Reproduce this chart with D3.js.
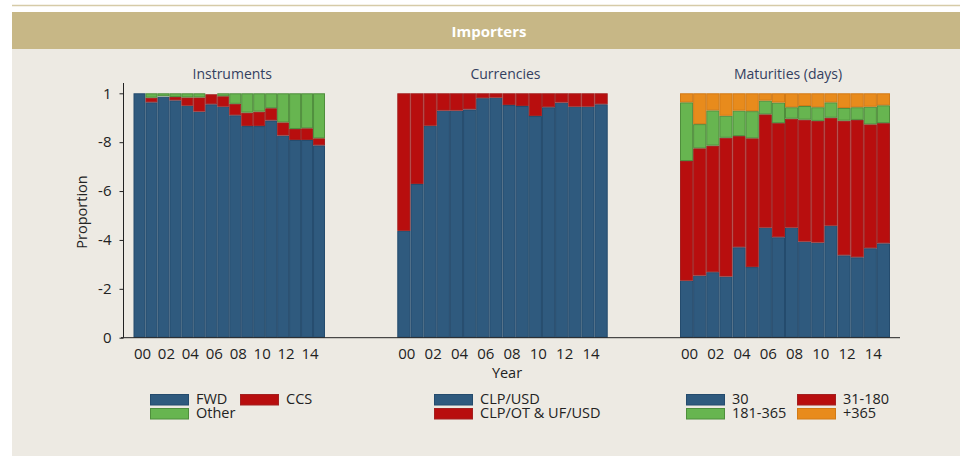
<!DOCTYPE html>
<html>
<head>
<meta charset="utf-8">
<script src="https://cdn.jsdelivr.net/npm/d3@7"></script>
<style>
  body { margin: 0; background: #fff; }
  svg { display: block; font-family: "Open Sans", sans-serif; }
</style>
</head>
<body>
<svg id="chart" width="960" height="456"></svg>
<script>
// years 2000-2015
var years = ["00","01","02","03","04","05","06","07","08","09","10","11","12","13","14","15"];
var yearTicks = ["00","02","04","06","08","10","12","14"];
var yTickValues = [0, 0.2, 0.4, 0.6, 0.8, 1];
var yTickLabels = ["0", "-2", "-4", "-6", "-8", "1"];

// Instruments
var fwd   = [1.000, .963, .986, .971, .949, .925, .955, .945, .910, .866, .866, .889, .827, .809, .809, .787];
var ccs   = [0.000, .019, .002, .014, .034, .058, .041, .043, .047, .055, .059, .050, .054, .045, .048, .029];
var other = [0.000, .018, .012, .015, .017, .017, .004, .012, .043, .079, .075, .061, .119, .146, .143, .184];

// Currencies
var clpUsd   = [.437, .629, .867, .929, .929, .934, .980, .982, .952, .948, .907, .943, .962, .945, .945, .955];
var clpOther = [.563, .371, .133, .071, .071, .066, .020, .018, .048, .052, .093, .057, .038, .055, .055, .045];

// Maturities (days)
var m30     = [.233, .254, .268, .250, .370, .289, .450, .411, .450, .393, .389, .458, .337, .329, .366, .386];
var m31_180 = [.490, .521, .518, .568, .455, .527, .464, .467, .446, .499, .498, .442, .551, .562, .507, .492];
var m181    = [.240, .099, .144, .090, .104, .111, .056, .084, .047, .056, .056, .063, .052, .052, .072, .073];
var m365    = [.037, .126, .070, .092, .071, .073, .030, .038, .057, .052, .057, .037, .060, .057, .055, .049];

var colors = {
  blue:   { fill: "#2f5a7e", stroke: "#244b6d" },
  red:    { fill: "#b80e0e", stroke: "#a32020" },
  green:  { fill: "#67b550", stroke: "#4f8e3c" },
  orange: { fill: "#e88b1c", stroke: "#d27a16" }
};

var panels = [
  { title: "Instruments", x0: 133.5, x1: 325,
    series: [
      { name: "FWD", values: fwd, color: colors.blue },
      { name: "CCS", values: ccs, color: colors.red },
      { name: "Other", values: other, color: colors.green }
    ],
    legend: { x: 150, colW: 90, cols: 2 } },
  { title: "Currencies", x0: 397.3, x1: 607.7,
    series: [
      { name: "CLP/USD", values: clpUsd, color: colors.blue },
      { name: "CLP/OT & UF/USD", values: clpOther, color: colors.red }
    ],
    legend: { x: 434, colW: 0, cols: 1 } },
  { title: "Maturities (days)", x0: 680, x1: 890,
    series: [
      { name: "30", values: m30, color: colors.blue },
      { name: "31-180", values: m31_180, color: colors.red },
      { name: "181-365", values: m181, color: colors.green },
      { name: "+365", values: m365, color: colors.orange }
    ],
    legend: { x: 686, colW: 111, cols: 2 } }
];

var svg = d3.select("#chart");

// background + header
svg.append("rect").attr("x", 12).attr("y", 12).attr("width", 948).attr("height", 444).attr("fill", "#edeae3");
svg.append("rect").attr("x", 12).attr("y", 12).attr("width", 948).attr("height", 37).attr("fill", "#c7b786");
svg.append("line").attr("x1", 12).attr("x2", 960).attr("y1", 5.5).attr("y2", 5.5)
  .attr("stroke", "#d6cba8").attr("stroke-width", 1.5);
svg.append("text").attr("x", 489).attr("y", 37).attr("text-anchor", "middle")
  .attr("fill", "#fff").style("font-weight", "bold").style("font-size", "15px").text("Importers");

var y = d3.scaleLinear().domain([0, 1]).range([337.7, 93.3]);

panels.forEach(function(p) {
  var x = d3.scaleBand().domain(years).range([p.x0, p.x1]).padding(0);

  var stack = d3.stack().keys(p.series.map(function(s, i) { return i; }))
    .value(function(d, k) { return p.series[k].values[d]; });
  var layers = stack(d3.range(years.length));

  var g = svg.append("g");
  layers.forEach(function(layer, k) {
    var c = p.series[k].color;
    g.selectAll(null)
      .data(layer)
      .enter()
      .append("rect")
      .attr("x", function(d, i) { return x(years[i]) + 0.5; })
      .attr("width", x.bandwidth() - 1)
      .attr("y", function(d) { return y(d[1]) + 0.5; })
      .attr("height", function(d) { return Math.max(0, y(d[0]) - y(d[1]) - 1); })
      .attr("fill", c.fill)
      .attr("stroke", c.stroke)
      .attr("stroke-width", 1)
      .style("display", function(d) { return d[1] - d[0] > 0 ? null : "none"; });
  });

  // title
  svg.append("text").attr("x", (p.x0 + p.x1) / 2 + 3).attr("y", 79)
    .attr("text-anchor", "middle").attr("fill", "#33405f").style("font-size", "14px").text(p.title);

  // x tick labels
  svg.append("g").selectAll("text")
    .data(yearTicks)
    .enter()
    .append("text")
    .attr("x", function(d) { return x(d) + x.bandwidth() / 2 + 3; })
    .attr("y", 359)
    .attr("text-anchor", "middle")
    .attr("fill", "#222")
    .style("font-size", "15px")
    .text(function(d) { return d; });

  // legend
  var lg = svg.append("g");
  p.series.forEach(function(s, i) {
    var col = p.legend.cols === 2 ? i % 2 : 0;
    var row = p.legend.cols === 2 ? Math.floor(i / 2) : i;
    var lx = p.legend.x + col * p.legend.colW;
    var ly = 394 + row * 14;
    lg.append("rect").attr("x", lx + 0.5).attr("y", ly + 0.5).attr("width", 38).attr("height", 10.5)
      .attr("fill", s.color.fill).attr("stroke", s.color.stroke).attr("stroke-width", 1);
    lg.append("text").attr("x", lx + 46).attr("y", ly + 10).attr("fill", "#222")
      .style("font-size", "14.5px").text(s.name);
  });
});

// y axis
var yAxis = d3.axisLeft(y).tickValues(yTickValues).tickSize(4).tickPadding(8)
  .tickFormat(function(d, i) { return yTickLabels[i]; });
var ya = svg.append("g").attr("transform", "translate(123.5,0)").call(yAxis);
ya.select(".domain").remove();
ya.selectAll("text").style("font-size", "15px").attr("fill", "#222").style("font-family", "'Open Sans', sans-serif");
ya.selectAll("line").attr("stroke", "#222");
svg.append("line").attr("x1", 123.5).attr("x2", 123.5).attr("y1", 83).attr("y2", 337.7).attr("stroke", "#222");

// x axis baseline
svg.append("line").attr("x1", 121).attr("x2", 900).attr("y1", 337.7).attr("y2", 337.7).attr("stroke", "#222");

// axis titles
svg.append("text").attr("transform", "translate(87,212) rotate(-90)")
  .attr("text-anchor", "middle").attr("fill", "#222").style("font-size", "14.5px").text("Proportion");
svg.append("text").attr("x", 507).attr("y", 378).attr("text-anchor", "middle")
  .attr("fill", "#222").style("font-size", "14.5px").text("Year");
</script>
</body>
</html>
